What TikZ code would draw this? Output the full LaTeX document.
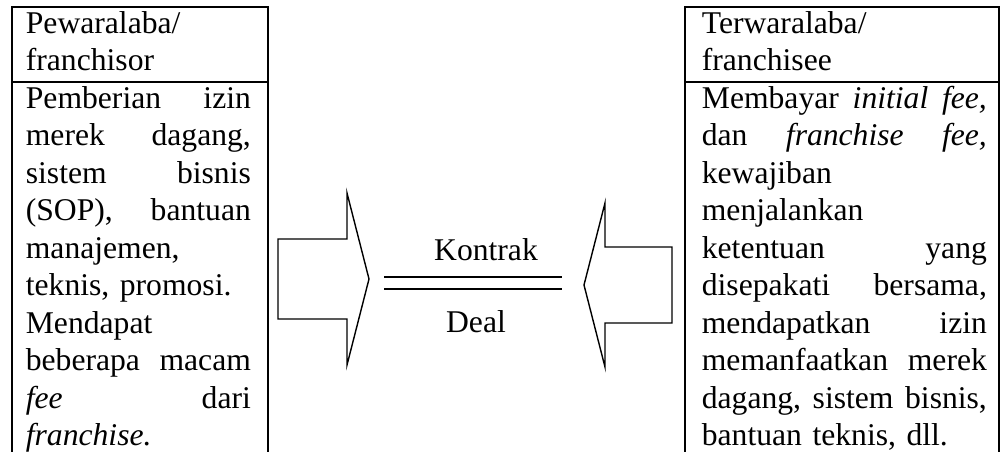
\documentclass[tikz,border=0pt]{standalone}
\usepackage{fontspec}
\setmainfont{Liberation Serif}
\begin{document}
\begin{tikzpicture}[line width=1pt,
  baris/.style={anchor=base west, inner sep=0pt, font=\fontsize{18}{21.3}\selectfont},
  label/.style={anchor=base, inner sep=0pt, font=\fontsize{18}{21.3}\selectfont}]
\useasboundingbox (0,0) rectangle (20.02,9.02);
\draw (0.24,-0.1) -- (0.24,8.88) -- (5.36,8.88) -- (5.36,-0.1);
\draw (0.24,7.38) -- (5.36,7.38);
\draw (13.70,-0.1) -- (13.70,8.88) -- (19.98,8.88) -- (19.98,-0.1);
\draw (13.70,7.38) -- (19.98,7.38);

\foreach \t [count=\i from 0] in {{Pewaralaba/},{franchisor},{Pemberian\hfill izin},{merek\hfill dagang,},{sistem\hfill bisnis},{(SOP),\hfill bantuan},{manajemen,},{teknis, promosi.},{Mendapat},{beberapa\hfill macam},{\textit{fee}\hfill dari},{\textit{franchise.}}}
  \node[baris, text width=4.5cm] (kiri\i) at (0.5,{8.36-0.75*\i}) {\t};
\foreach \t [count=\i from 0] in {{Terwaralaba/},{franchisee},{Membayar\hfill\textit{initial}\hfill\textit{fee,}},{dan\hfill\textit{franchise}\hfill\textit{fee,}},{kewajiban},{menjalankan},{ketentuan\hfill yang},{disepakati\hfill bersama,},{mendapatkan\hfill izin},{memanfaatkan\hfill merek},{dagang,\hfill sistem\hfill bisnis,},{bantuan teknis, dll.}}
  \node[baris, text width=5.7cm] (kanan\i) at (14.02,{8.36-0.75*\i}) {\t};

\draw [line width=0.8pt] (5.56,4.24) -- (6.94,4.24) -- (6.94,5.16) -- (7.38,3.44) -- (6.94,1.72) -- (6.94,2.64) -- (5.56,2.64) -- cycle;
\draw [line width=0.8pt] (13.44,4.08) -- (12.10,4.08) -- (12.10,4.96) -- (11.68,3.32) -- (12.10,1.68) -- (12.10,2.56) -- (13.44,2.56) -- cycle;

\coordinate (ga) at (7.68,3.48);
\coordinate (gb) at (11.24,3.48);
\coordinate (gc) at (7.68,3.24);
\coordinate (gd) at (11.24,3.24);
\draw (ga) -- (gb);
\draw (gc) -- (gd);
\node[label] (kontrak) at (9.72,3.82) {Kontrak};
\node[label] (deal) at (9.52,2.38) {Deal};
\end{tikzpicture}
\end{document}
